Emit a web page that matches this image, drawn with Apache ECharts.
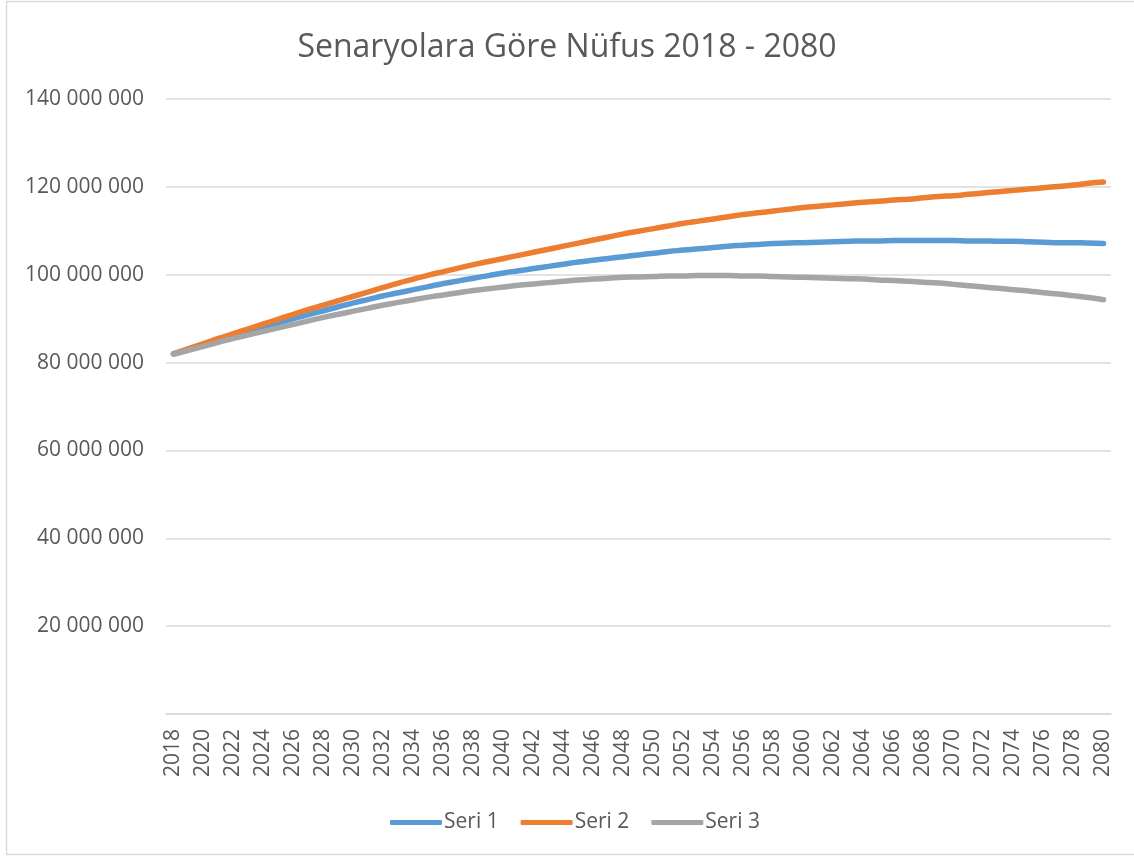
<!DOCTYPE html>
<html>
<head>
    <meta charset="UTF-8">
    <title>Senaryolara Göre Nüfus</title>
    <script type="text/javascript" src="https://cdn.jsdelivr.net/npm/echarts@6/dist/echarts.min.js"></script>
</head>
<body style="margin: 0; background-color: #ffffff;">
    <div id="chart" style="width: 1134px; height: 856px;"></div>
    <script>
        // yillar (2018 - 2080)
        var years = [];
        for (var y = 2018; y <= 2080; y++) { years.push(String(y)); }

        // nufus, milyon kisi
        var seri1 = [
            82.0, 83.0, 84.0, 85.0, 86.0, 87.0, 88.0, 89.0, 90.0, 90.9,
            91.8, 92.7, 93.6, 94.4, 95.2, 95.9, 96.6, 97.3, 98.0, 98.6,
            99.2, 99.8, 100.4, 100.9, 101.4, 101.9, 102.4, 102.9, 103.3, 103.7,
            104.1, 104.5, 104.9, 105.3, 105.6, 105.9, 106.2, 106.5, 106.7, 106.9,
            107.1, 107.2, 107.3, 107.4, 107.5, 107.6, 107.7, 107.7, 107.8, 107.8,
            107.8, 107.8, 107.8, 107.7, 107.7, 107.6, 107.6, 107.5, 107.4, 107.3,
            107.3, 107.2, 107.1
        ];
        var seri2 = [
            82.0, 83.2, 84.3, 85.5, 86.6, 87.7, 88.8, 89.9, 91.0, 92.1,
            93.1, 94.1, 95.1, 96.1, 97.1, 98.1, 99.0, 99.9, 100.7, 101.5,
            102.3, 103.0, 103.7, 104.4, 105.1, 105.8, 106.5, 107.2, 107.9, 108.6,
            109.3, 109.9, 110.5, 111.1, 111.7, 112.2, 112.7, 113.2, 113.7, 114.1,
            114.5, 114.9, 115.3, 115.6, 115.9, 116.2, 116.5, 116.7, 117.0, 117.2,
            117.5, 117.8, 118.0, 118.3, 118.6, 118.9, 119.2, 119.5, 119.8, 120.1,
            120.4, 120.8, 121.1
        ];
        var seri3 = [
            81.9, 82.8, 83.7, 84.6, 85.5, 86.3, 87.1, 87.9, 88.7, 89.5,
            90.3, 91.0, 91.7, 92.4, 93.1, 93.7, 94.3, 94.9, 95.4, 95.9,
            96.4, 96.8, 97.2, 97.6, 97.9, 98.2, 98.5, 98.8, 99.0, 99.2,
            99.4, 99.5, 99.6, 99.7, 99.7, 99.8, 99.8, 99.8, 99.7, 99.7,
            99.6, 99.5, 99.4, 99.3, 99.2, 99.1, 99.0, 98.8, 98.7, 98.5,
            98.3, 98.1, 97.8, 97.5, 97.2, 96.9, 96.6, 96.3, 95.9, 95.6,
            95.2, 94.8, 94.3
        ];

        var seriesNames = ['Seri 1', 'Seri 2', 'Seri 3'];
        var seriesColors = ['#5B9BD5', '#ED7D31', '#A5A5A5'];
        var seriesValues = [seri1, seri2, seri3];

        var textColor = '#595959';
        var fontFamily = 'Open Sans';

        function fmt(v) {
            if (v === 0) return '';
            return String(v).replace(/\B(?=(\d{3})+(?!\d))/g, ' ');
        }

        var chart = echarts.init(document.getElementById('chart'), null, {renderer: 'canvas'});

        var option = {
            animation: false,
            backgroundColor: '#ffffff',
            textStyle: {fontFamily: fontFamily},
            title: {
                text: 'Senaryolara Göre Nüfus 2018 - 2080',
                left: 'center',
                top: 27,
                textStyle: {
                    color: textColor,
                    fontFamily: fontFamily,
                    fontSize: 32,
                    fontWeight: 'normal'
                }
            },
            graphic: [{
                type: 'rect',
                shape: {x: 6.5, y: 1.5, width: 1200, height: 853},
                style: {fill: 'none', stroke: '#d9d9d9', lineWidth: 1.5},
                silent: true
            }],
            legend: {
                data: seriesNames,
                left: 385,
                top: 807,
                icon: 'roundRect',
                itemWidth: 52,
                itemHeight: 5,
                itemGap: 22,
                textStyle: {color: textColor, fontFamily: fontFamily, fontSize: 21, padding: [0, 0, 0, -3]}
            },
            grid: {left: 166, right: 23, top: 99, bottom: 142},
            xAxis: {
                type: 'category',
                data: years,
                boundaryGap: true,
                axisLine: {lineStyle: {color: '#d9d9d9', width: 1.5}},
                axisTick: {show: false},
                axisLabel: {
                    rotate: 90,
                    interval: 1,
                    margin: 15,
                    color: textColor,
                    fontFamily: fontFamily,
                    fontSize: 21
                }
            },
            yAxis: {
                type: 'value',
                min: 0,
                max: 140000000,
                interval: 20000000,
                axisLine: {show: false},
                axisTick: {show: false},
                splitLine: {lineStyle: {color: '#d9d9d9', width: 1.5}},
                axisLabel: {
                    margin: 22,
                    color: textColor,
                    fontFamily: fontFamily,
                    fontSize: 21,
                    formatter: fmt
                }
            },
            series: seriesNames.map(function (name, i) {
                return {
                    name: name,
                    type: 'line',
                    smooth: true,
                    symbol: 'none',
                    data: seriesValues[i].map(function (v) { return Math.round(v * 1000000); }),
                    itemStyle: {color: seriesColors[i]},
                    lineStyle: {color: seriesColors[i], width: 5.5, cap: 'round', join: 'round'}
                };
            })
        };

        chart.setOption(option);
    </script>
</body>
</html>
